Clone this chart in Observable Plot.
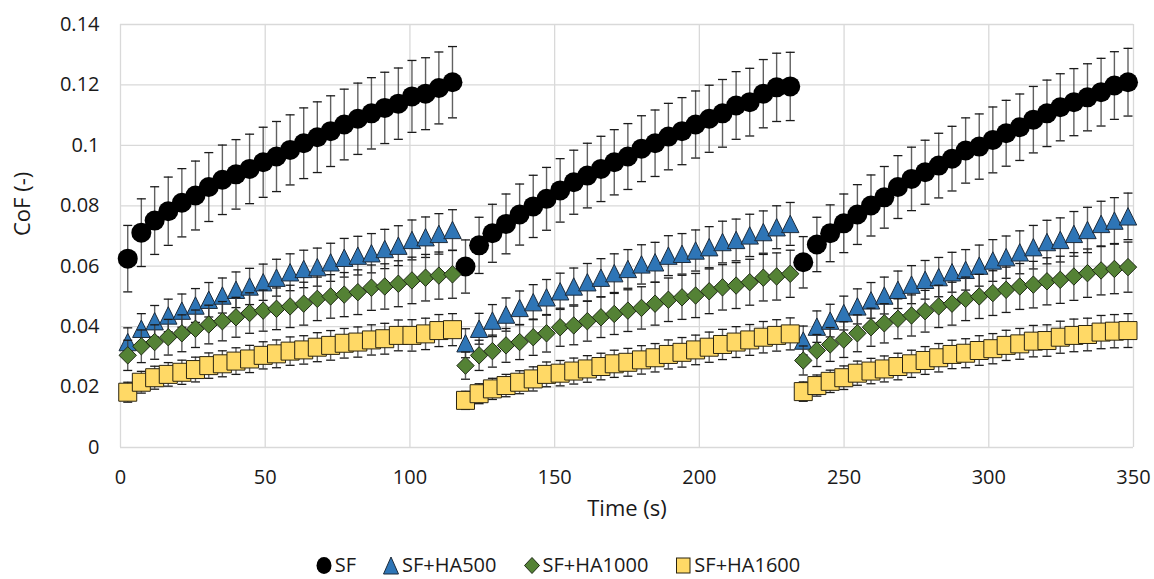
<!DOCTYPE html>
<html>
<head>
<meta charset="utf-8">
<script src="https://cdn.jsdelivr.net/npm/d3@7"></script>
<script src="https://cdn.jsdelivr.net/npm/@observablehq/plot@0.6"></script>
<style>
  html, body { margin: 0; padding: 0; background: #fff; }
  body { width: 1154px; height: 579px; overflow: hidden; font-family: "Open Sans", sans-serif; color: #1a1a1a; }
  #chart { height: 548px; }
  #legend { display: flex; justify-content: center; align-items: center; gap: 27px; font-size: 20px; line-height: 20px; height: 20px; margin-top: 7px; padding-right: 38px; }
  #legend .item { display: flex; align-items: center; gap: 3px; }
  #legend svg { display: block; }
</style>
</head>
<body>
<div id="chart"></div>
<div id="legend"></div>
<script>
// ---- data ----
const seriesNames = ["SF", "SF+HA500", "SF+HA1000", "SF+HA1600"];
const xTicks = [0, 50, 100, 150, 200, 250, 300, 350];
const yTicks = [0, 0.02, 0.04, 0.06, 0.08, 0.1, 0.12, 0.14];

const time = [
  2.5, 7.2, 11.8, 16.5, 21.2, 25.9, 30.5, 35.2, 39.9, 44.6, 49.3, 53.9, 58.6, 63.3, 68.0, 72.6, 77.3, 82.0, 86.7, 91.3, 96.0, 100.7, 105.4, 110.0, 114.7,
  119.2, 123.9, 128.5, 133.2, 137.9, 142.6, 147.2, 151.9, 156.6, 161.3, 166.0, 170.6, 175.3, 180.0, 184.7, 189.3, 194.0, 198.7, 203.4, 208.0, 212.7, 217.4, 222.1, 226.7, 231.4,
  235.9, 240.6, 245.2, 249.9, 254.6, 259.3, 263.9, 268.6, 273.3, 278.0, 282.7, 287.3, 292.0, 296.7, 301.4, 306.0, 310.7, 315.4, 320.1, 324.7, 329.4, 334.1, 338.8, 343.4, 348.1
];

const sf = [
  0.0625,0.0711,0.0751,0.0782,0.0810,0.0834,0.0862,0.0886,0.0904,0.0922,0.0944,0.0963,0.0985,0.1007,0.1027,0.1047,0.1069,0.1088,0.1106,0.1124,0.1138,0.1162,0.1171,0.1190,0.1209,
  0.0599,0.0669,0.0709,0.0740,0.0771,0.0798,0.0823,0.0851,0.0878,0.0900,0.0922,0.0944,0.0963,0.0989,0.1007,0.1029,0.1047,0.1069,0.1088,0.1106,0.1132,0.1143,0.1171,0.1192,0.1195,
  0.0613,0.0672,0.0709,0.0742,0.0771,0.0801,0.0828,0.0862,0.0889,0.0911,0.0933,0.0956,0.0983,0.0996,0.1018,0.1040,0.1060,0.1085,0.1106,0.1126,0.1143,0.1159,0.1176,0.1198,0.1209
];
const sfErr = [
  0.0110,0.0112,0.0112,0.0113,0.0113,0.0114,0.0114,0.0115,0.0115,0.0115,0.0116,0.0116,0.0116,0.0117,0.0117,0.0117,0.0117,0.0118,0.0118,0.0118,0.0118,0.0119,0.0119,0.0119,0.0118,
  0.0088,0.0093,0.0096,0.0099,0.0101,0.0103,0.0104,0.0105,0.0106,0.0107,0.0108,0.0108,0.0109,0.0109,0.0110,0.0110,0.0111,0.0111,0.0111,0.0112,0.0112,0.0112,0.0113,0.0113,0.0113,
  0.0085,0.0090,0.0094,0.0097,0.0099,0.0101,0.0102,0.0104,0.0105,0.0106,0.0107,0.0107,0.0108,0.0108,0.0109,0.0109,0.0110,0.0110,0.0110,0.0111,0.0111,0.0111,0.0112,0.0112,0.0112
];

const ha500 = [
  0.0349,0.0393,0.0418,0.0437,0.0453,0.0470,0.0489,0.0503,0.0522,0.0533,0.0547,0.0562,0.0580,0.0591,0.0597,0.0613,0.0628,0.0635,0.0643,0.0657,0.0668,0.0687,0.0696,0.0707,0.0720,
  0.0345,0.0393,0.0420,0.0440,0.0462,0.0481,0.0497,0.0517,0.0533,0.0547,0.0562,0.0577,0.0591,0.0606,0.0613,0.0635,0.0641,0.0652,0.0663,0.0680,0.0687,0.0702,0.0713,0.0729,0.0740,
  0.0354,0.0400,0.0420,0.0445,0.0467,0.0487,0.0503,0.0522,0.0539,0.0555,0.0564,0.0580,0.0588,0.0602,0.0619,0.0630,0.0646,0.0663,0.0680,0.0687,0.0707,0.0720,0.0740,0.0751,0.0765
];
const ha500Err = [
  0.0047,0.0050,0.0052,0.0054,0.0055,0.0056,0.0057,0.0058,0.0059,0.0060,0.0060,0.0061,0.0061,0.0062,0.0063,0.0063,0.0064,0.0064,0.0065,0.0065,0.0066,0.0066,0.0067,0.0067,0.0067,
  0.0048,0.0051,0.0053,0.0055,0.0056,0.0058,0.0059,0.0060,0.0061,0.0062,0.0063,0.0064,0.0064,0.0065,0.0066,0.0066,0.0067,0.0068,0.0068,0.0069,0.0069,0.0070,0.0070,0.0071,0.0071,
  0.0048,0.0052,0.0054,0.0056,0.0058,0.0059,0.0061,0.0062,0.0063,0.0064,0.0065,0.0066,0.0067,0.0068,0.0069,0.0070,0.0071,0.0072,0.0072,0.0073,0.0074,0.0075,0.0075,0.0076,0.0077
];

const ha1000 = [
  0.0305,0.0335,0.0349,0.0365,0.0378,0.0393,0.0407,0.0418,0.0431,0.0445,0.0453,0.0459,0.0467,0.0476,0.0492,0.0500,0.0506,0.0514,0.0529,0.0533,0.0542,0.0553,0.0562,0.0569,0.0573,
  0.0271,0.0305,0.0319,0.0338,0.0349,0.0365,0.0378,0.0398,0.0404,0.0418,0.0431,0.0442,0.0453,0.0462,0.0476,0.0489,0.0497,0.0503,0.0517,0.0530,0.0536,0.0547,0.0562,0.0566,0.0575,
  0.0288,0.0321,0.0341,0.0357,0.0378,0.0398,0.0411,0.0426,0.0437,0.0451,0.0467,0.0476,0.0492,0.0500,0.0511,0.0522,0.0533,0.0539,0.0550,0.0555,0.0566,0.0577,0.0586,0.0591,0.0597
];
const ha1000Err = [
  0.0050,0.0054,0.0057,0.0059,0.0061,0.0062,0.0064,0.0065,0.0066,0.0067,0.0068,0.0069,0.0070,0.0071,0.0072,0.0072,0.0073,0.0074,0.0075,0.0075,0.0076,0.0077,0.0077,0.0078,0.0079,
  0.0045,0.0050,0.0053,0.0056,0.0058,0.0060,0.0062,0.0063,0.0064,0.0066,0.0067,0.0068,0.0069,0.0070,0.0071,0.0072,0.0073,0.0073,0.0074,0.0075,0.0076,0.0076,0.0077,0.0078,0.0078,
  0.0048,0.0053,0.0056,0.0059,0.0061,0.0063,0.0065,0.0066,0.0068,0.0069,0.0070,0.0071,0.0072,0.0073,0.0074,0.0075,0.0076,0.0077,0.0078,0.0078,0.0079,0.0080,0.0081,0.0082,0.0083
];

const ha1600 = [
  0.0183,0.0216,0.0231,0.0242,0.0249,0.0258,0.0271,0.0277,0.0286,0.0293,0.0305,0.0310,0.0319,0.0323,0.0332,0.0338,0.0345,0.0349,0.0356,0.0360,0.0371,0.0371,0.0376,0.0387,0.0390,
  0.0156,0.0178,0.0194,0.0205,0.0216,0.0227,0.0242,0.0246,0.0253,0.0260,0.0268,0.0277,0.0282,0.0290,0.0297,0.0308,0.0315,0.0323,0.0332,0.0341,0.0349,0.0356,0.0365,0.0371,0.0376,
  0.0185,0.0205,0.0219,0.0231,0.0246,0.0253,0.0260,0.0268,0.0277,0.0288,0.0297,0.0308,0.0312,0.0321,0.0327,0.0338,0.0343,0.0352,0.0354,0.0365,0.0371,0.0374,0.0382,0.0385,0.0387
];
const ha1600Err = [
  0.0033,0.0036,0.0038,0.0039,0.0040,0.0041,0.0042,0.0043,0.0044,0.0045,0.0045,0.0046,0.0047,0.0047,0.0048,0.0049,0.0049,0.0050,0.0050,0.0051,0.0051,0.0052,0.0052,0.0053,0.0053,
  0.0030,0.0033,0.0035,0.0037,0.0038,0.0040,0.0041,0.0042,0.0043,0.0044,0.0044,0.0045,0.0046,0.0047,0.0047,0.0048,0.0049,0.0049,0.0050,0.0050,0.0051,0.0051,0.0052,0.0052,0.0053,
  0.0032,0.0035,0.0037,0.0039,0.0040,0.0042,0.0043,0.0044,0.0045,0.0046,0.0047,0.0047,0.0048,0.0049,0.0050,0.0050,0.0051,0.0052,0.0052,0.0053,0.0054,0.0054,0.0055,0.0055,0.0056
];

// ---- styles ----
const capSymbol = { draw(ctx) { ctx.moveTo(-4.5, 0); ctx.lineTo(4.5, 0); } };
const triSymbol = { draw(ctx) { ctx.moveTo(0, -8.7); ctx.lineTo(8.7, 8.7); ctx.lineTo(-8.7, 8.7); ctx.closePath(); } };
const diaSymbol = { draw(ctx) { ctx.moveTo(0, -8.7); ctx.lineTo(8.7, 0); ctx.lineTo(0, 8.7); ctx.lineTo(-8.7, 0); ctx.closePath(); } };
const sqSymbol  = { draw(ctx) { ctx.rect(-9, -9, 18, 18); } };

const styles = [
  { name: seriesNames[0], vals: sf, errs: sfErr, symbol: "circle", r: 10, fill: "#000000", stroke: "none" },
  { name: seriesNames[1], vals: ha500, errs: ha500Err, symbol: triSymbol, r: 8, fill: "#2E75B6", stroke: "#1c2a3a" },
  { name: seriesNames[2], vals: ha1000, errs: ha1000Err, symbol: diaSymbol, r: 8, fill: "#548235", stroke: "#1f2a16" },
  { name: seriesNames[3], vals: ha1600, errs: ha1600Err, symbol: sqSymbol, r: 8, fill: "#FFD966", stroke: "#2a2410" }
];

const marks = [
  Plot.gridX(xTicks, { stroke: "#d9d9d9", strokeOpacity: 1, strokeWidth: 1.3 }),
  Plot.gridY(yTicks, { stroke: "#d9d9d9", strokeOpacity: 1, strokeWidth: 1.3 }),
  Plot.axisX(xTicks, { tickSize: 0, tickPadding: 22, fontSize: 20, label: null }),
  Plot.axisY(yTicks, { tickSize: 0, tickPadding: 21, fontSize: 20, label: null, tickFormat: d => String(+d.toFixed(2)) }),
  Plot.text(["Time (s)"], { frameAnchor: "bottom", dy: 68, fontSize: 22, fill: "#1a1a1a" }),
  Plot.text(["CoF (-)"], { frameAnchor: "left", dx: -98, rotate: -90, fontSize: 22, fill: "#1a1a1a" })
];

for (const s of styles) {
  const rows = time.map((t, i) => ({ t, v: s.vals[i], lo: s.vals[i] - s.errs[i], hi: s.vals[i] + s.errs[i] }));
  marks.push(
    Plot.ruleX(rows, { x: "t", y1: "lo", y2: "hi", stroke: "#3a3a3a", strokeWidth: 1.4, strokeOpacity: 0.8 }),
    Plot.dot(rows, { x: "t", y: "lo", symbol: capSymbol, r: 4, stroke: "#1a1a1a", strokeWidth: 1.3, fill: "none" }),
    Plot.dot(rows, { x: "t", y: "hi", symbol: capSymbol, r: 4, stroke: "#1a1a1a", strokeWidth: 1.3, fill: "none" }),
    Plot.dot(rows, { x: "t", y: "v", symbol: s.symbol, r: s.r, fill: s.fill, stroke: s.stroke, strokeWidth: 1, fillOpacity: 1 })
  );
}

const chart = Plot.plot({
  width: 1154,
  height: 548,
  marginLeft: 120,
  marginRight: 21,
  marginTop: 24,
  marginBottom: 101,
  style: { fontFamily: "'Open Sans', sans-serif", color: "#1a1a1a", background: "#fff", display: "block" },
  x: { domain: [0, 350] },
  y: { domain: [0, 0.14] },
  marks
});
document.getElementById("chart").appendChild(chart);

// ---- legend ----
const legend = document.getElementById("legend");
const legendShapes = [
  '<ellipse cx="8" cy="9.5" rx="7.5" ry="8.5" fill="#000"/>',
  '<path d="M8,1 L15.5,18 L0.5,18 Z" fill="#2E75B6" stroke="#1c2a3a" stroke-width="1"/>',
  '<path d="M8,1.5 L15.5,9.5 L8,17.5 L0.5,9.5 Z" fill="#548235" stroke="#1f2a16" stroke-width="1"/>',
  '<rect x="1.5" y="2" width="13.5" height="15" fill="#FFD966" stroke="#2a2410" stroke-width="1"/>'
];
seriesNames.forEach((name, i) => {
  const item = document.createElement("div");
  item.className = "item";
  item.innerHTML = `<svg width="16" height="19" viewBox="0 0 16 19">${legendShapes[i]}</svg><span>${name}</span>`;
  legend.appendChild(item);
});
</script>
</body>
</html>
